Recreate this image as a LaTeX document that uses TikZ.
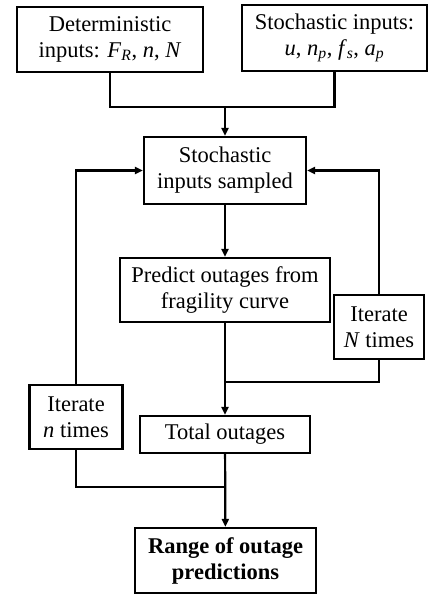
\documentclass[tikz,border=0pt]{standalone}
\usepackage{fontspec}
\setmainfont{Liberation Serif}
\usetikzlibrary{arrows.meta, positioning}

\newcommand{\vsub}[2]{\textit{#1}\textsubscript{\textit{#2}}}

\begin{document}
\begin{tikzpicture}[
    x=1pt, y=-1pt,
    % Node styles
    box/.style={rectangle, draw=black, line width=2.2pt, align=center, inner sep=1pt, font=\fontsize{22.5}{26}\selectfont},
    arrow/.style={-{Triangle[length=8pt, width=7pt]}, line width=2.2pt},
    link/.style={line width=2.2pt}
]
    \useasboundingbox (0,0) rectangle (436,599);

    % ==================== INPUTS ====================
    \node [box, minimum width=186pt, minimum height=65pt] (det) at (110,39.5) {Deterministic \\ inputs: \vsub{F}{R}, \textit{n}, \textit{N}};
    \node [box, minimum width=185pt, minimum height=66pt] (stoch) at (334.5,38) {Stochastic inputs: \\ \textit{u}, \vsub{n}{p}, \vsub{f}{s}, \vsub{a}{p}};

    % ==================== MAIN COLUMN ====================
    \node [box, minimum width=162pt, minimum height=67pt] (sampled) at (225,170.5) {Stochastic \\ inputs sampled};
    \node [box, minimum width=210pt, minimum height=64pt] (predict) at (225,290) {Predict outages from \\ fragility curve};
    \node [box, minimum width=170pt, minimum height=37pt] (total) at (225,434.5) {Total outages};
    \node [box, minimum width=181pt, minimum height=65pt, font=\fontsize{22.5}{26}\selectfont\bfseries] (range) at (225.5,560.5) {Range of outage \\ predictions};

    % ==================== LOOPS ====================
    \node [box, minimum width=90pt, minimum height=64pt] (iterN) at (379,327) {Iterate \\ \textit{N} times};
    \node [box, minimum width=93pt, minimum height=64pt] (itern) at (76,417) {Iterate \\ \textit{n} times};

    \coordinate (joinIn) at (225,107);
    \coordinate (joinN) at (225,382);
    \coordinate (joinn) at (225,487);

    % Connections
    \draw [link] (det.south) |- (joinIn) -| (stoch.south);
    \draw [arrow] (joinIn) -- (sampled.north);
    \draw [arrow] (sampled) -- (predict);
    \draw [arrow] (predict) -- (total);
    \draw [arrow] (total) -- (range);

    % Iteration loops
    \draw [arrow] (iterN.north) |- (sampled.east);
    \draw [arrow] (itern.north) |- (sampled.west);
    \draw [link] (iterN.south) |- (joinN);
    \draw [link] (itern.south) |- (joinn);

\end{tikzpicture}
\end{document}
